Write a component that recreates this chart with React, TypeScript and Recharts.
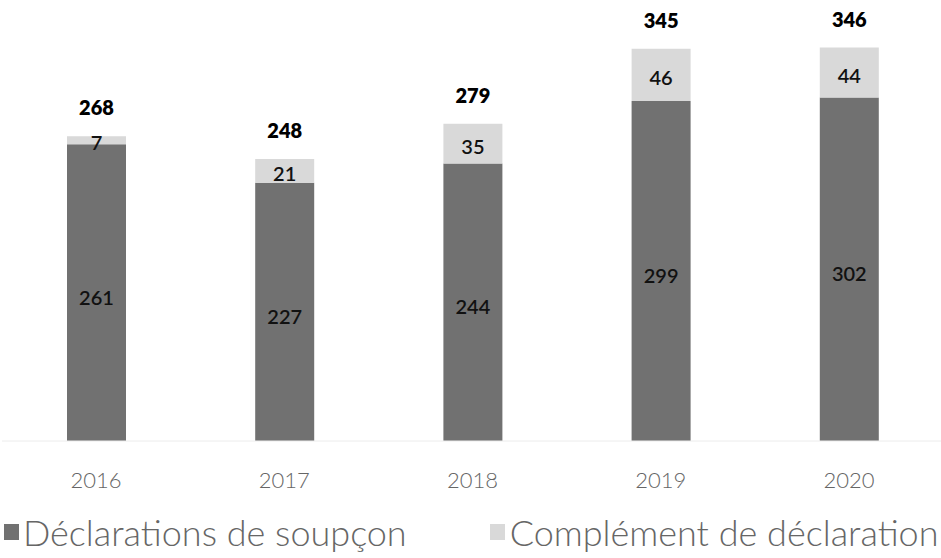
import React from "react";
import { BarChart, Bar, XAxis, YAxis, LabelList, Legend } from "recharts";

const YEARS = ["2016", "2017", "2018", "2019", "2020"];
const SOUPCON = [261, 227, 244, 299, 302];
const COMPLEMENT = [7, 21, 35, 46, 44];
const TOTALS = [268, 248, 279, 345, 346];

const DARK = "#717171";
const LIGHT = "#d9d9d9";
const FONT = "Lato, 'Open Sans', sans-serif";

const data = YEARS.map((year, i) => ({
  year,
  soupcon: SOUPCON[i],
  complement: COMPLEMENT[i],
  total: TOTALS[i],
}));

const LegendBox = () => (
  <div
    style={{
      display: "flex",
      alignItems: "center",
      fontFamily: FONT,
      fontWeight: 300,
      fontSize: 36,
      lineHeight: "44px",
      color: "#666",
      paddingLeft: 4,
      paddingTop: 14,
      whiteSpace: "nowrap",
    }}
  >
    <span style={{ flexShrink: 0, width: 15, height: 16, background: DARK, marginRight: 4 }} />
    <span style={{ flexShrink: 0 }}>Déclarations de soupçon</span>
    <span
      style={{
        flexShrink: 0,
        width: 15,
        height: 16,
        background: LIGHT,
        marginLeft: 83,
        marginRight: 5,
      }}
    />
    <span style={{ flexShrink: 0 }}>Complément de déclaration</span>
  </div>
);

export default function App() {
  return (
    <div style={{ position: "absolute", left: 0, top: 0, width: 941, height: 558, background: "#fff" }}>
      <BarChart
        width={941}
        height={558}
        data={data}
        margin={{ top: 43, right: -2, left: 2, bottom: 0 }}
        barSize={59}
      >
        <XAxis
          dataKey="year"
          axisLine={{ stroke: "#ececec" }}
          tickLine={false}
          height={55}
          tickMargin={25}
          tick={{ fill: "#666", fontSize: 22, fontFamily: FONT, fontWeight: 300 }}
        />
        <YAxis hide domain={[0, 350]} />
        <Legend
          verticalAlign="bottom"
          height={62}
          wrapperStyle={{ left: 0, width: 941 }}
          content={() => <LegendBox />}
        />
        <Bar dataKey="soupcon" stackId="a" fill={DARK} isAnimationActive={false}>
          <LabelList
            dataKey="soupcon"
            position="center"
            dy={5}
            fill="#111"
            fontSize={20}
            fontFamily={FONT}
            fontWeight={600}
          />
        </Bar>
        <Bar dataKey="complement" stackId="a" fill={LIGHT} isAnimationActive={false}>
          <LabelList
            dataKey="complement"
            position="center"
            dy={3}
            fill="#111"
            fontSize={20}
            fontFamily={FONT}
            fontWeight={600}
          />
          <LabelList
            dataKey="total"
            position="top"
            offset={21}
            fill="#000"
            fontSize={20}
            fontFamily={FONT}
            fontWeight={800}
          />
        </Bar>
      </BarChart>
    </div>
  );
}
